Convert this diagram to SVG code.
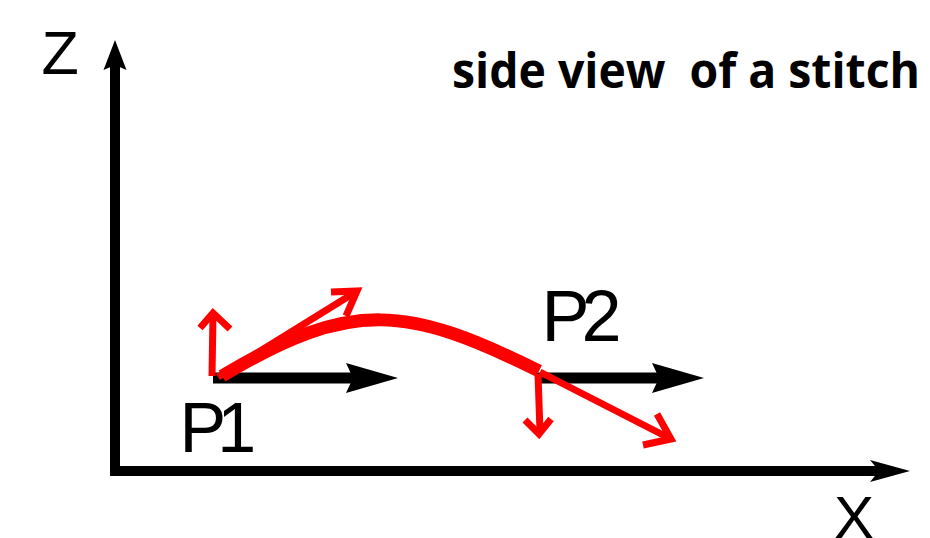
<svg xmlns="http://www.w3.org/2000/svg" width="930" height="538" viewBox="0 0 930 538">
<style>
.lbl{font-family:"Liberation Sans",Arial,sans-serif;fill:#000}
.title{font-family:"Open Sans","Liberation Sans",sans-serif;font-weight:bold;fill:#000}
.ax{fill:none;stroke:#000;stroke-width:10;stroke-linejoin:miter}
.blk{fill:none;stroke:#000;stroke-width:11}
.red{fill:none;stroke:#ff0000;stroke-width:7;stroke-linejoin:miter;stroke-miterlimit:10}
</style>
<defs>
<marker id="bh" markerUnits="userSpaceOnUse" markerWidth="60" markerHeight="40" refX="7" refY="15" orient="auto" overflow="visible">
<path d="M0,0 L52,15 L0,30 L7,15 Z" fill="#000"/>
</marker>
<marker id="ah" markerUnits="userSpaceOnUse" markerWidth="50" markerHeight="30" refX="9" refY="11" orient="auto" overflow="visible">
<path d="M0,0 L40,11 L0,22 L9,11 Z" fill="#000"/>
</marker>
<marker id="az" markerUnits="userSpaceOnUse" markerWidth="40" markerHeight="30" refX="5" refY="11.5" orient="auto" overflow="visible">
<path d="M0,0 L30,11.5 L0,23 L5,11.5 Z" fill="#000"/>
</marker>
</defs>
<g id="title"><text class="title" x="452" y="88" font-size="48" textLength="468" lengthAdjust="spacingAndGlyphs" xml:space="preserve">side view  of a stitch</text></g>
<g id="label-z"><text class="lbl" x="41.5" y="74" font-size="61">Z</text></g>
<g id="label-x"><text class="lbl" x="834" y="538" font-size="60">X</text></g>
<g id="label-p1"><text class="lbl" x="179.6" y="452" font-size="70" letter-spacing="-9">P1</text></g>
<g id="label-p2"><text class="lbl" x="541.5" y="341" font-size="72" letter-spacing="-8">P2</text></g>
<g id="connectors">
<polyline class="ax" points="115,70 115,471 879,471" marker-end="url(#ah)"/>
<line class="ax" x1="115" y1="80" x2="115" y2="65" marker-end="url(#az)"/>
<line class="blk" x1="213" y1="378" x2="353" y2="378" marker-end="url(#bh)"/>
<line class="blk" x1="537" y1="378" x2="659" y2="378" marker-end="url(#bh)"/>
<path d="M222,376 C352,298 408,306 539,371" fill="none" stroke="#ff0000" stroke-width="13"/>
<line class="red" x1="218" y1="377" x2="354" y2="293"/>
<polyline class="red" points="331,292 357,291 346,316"/>
<line class="red" x1="212" y1="376" x2="213" y2="314"/>
<polyline class="red" points="200,328 213,313 230,329"/>
<line class="red" x1="538" y1="374" x2="540" y2="432"/>
<polyline class="red" points="525,420 539,434 551,419"/>
<line class="red" stroke-width="8" x1="540" y1="372" x2="669" y2="438"/>
<polyline class="red" stroke-width="8" points="657,414 671,439 643,445"/>
</g>
</svg>
